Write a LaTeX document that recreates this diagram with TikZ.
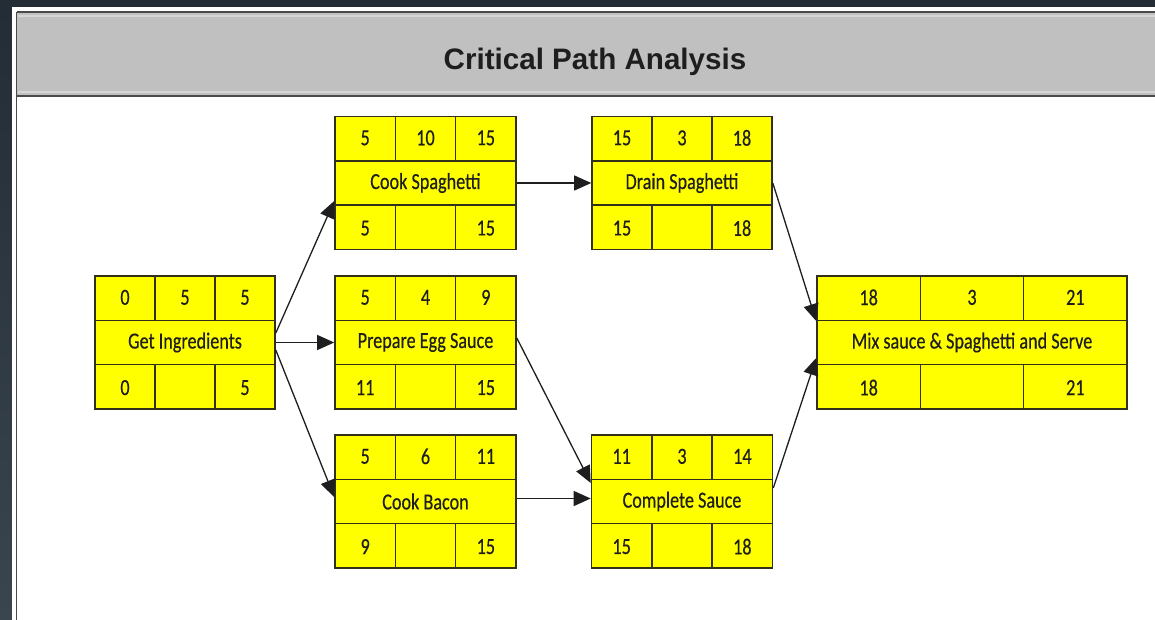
\documentclass[tikz,border=0pt]{standalone}
\usepackage{fontspec}
\usetikzlibrary{arrows.meta}
\newfontfamily\boxfont[FakeStretch=0.79,FakeBold=0.4]{Carlito}
\newfontfamily\headfont{Liberation Sans}
\definecolor{frame}{HTML}{242C36}
\definecolor{frameside}{HTML}{3A4550}
\definecolor{barfill}{HTML}{C0C0C0}
\definecolor{barline}{HTML}{4A4A4A}
\definecolor{barlight}{HTML}{D6D6D6}
\definecolor{taskfill}{HTML}{FFFF00}
\definecolor{taskline}{HTML}{33301A}
\definecolor{ink}{HTML}{1E1E1E}

\tikzset{
  taskbox/.style={draw=taskline, line width=1.6pt, fill=taskfill, minimum height=133pt,
    inner sep=0pt, font=\boxfont\fontsize{23}{25}\selectfont, text=ink},
  grid/.style={draw=taskline, line width=1.6pt},
  cell/.style={inner sep=0pt, font=\boxfont\fontsize{23}{25}\selectfont, text=ink},
  link/.style={draw=ink, line width=1.3pt, -{Triangle[length=17pt,width=15pt]}},
}

% #1 name, #2 centre, #3 width, #4 title, #5 ES, #6 duration, #7 EF, #8 LS, #9 LF
\newcommand\activity[9]{%
  \node[taskbox, minimum width=#3pt] (#1) at #2 {#4};
  \draw[grid] ([yshift=22.17pt]#1.west) -- ([yshift=22.17pt]#1.east)
              ([yshift=-22.17pt]#1.west) -- ([yshift=-22.17pt]#1.east);
  \foreach \s in {-1,1} {
    \draw[grid] ([xshift=\s*#3pt/6]#1.north) -- ([xshift=\s*#3pt/6, yshift=-44.33pt]#1.north);
    \draw[grid] ([xshift=\s*#3pt/6]#1.south) -- ([xshift=\s*#3pt/6, yshift=44.33pt]#1.south);
  }
  \node[cell] (#1-es)  at ([xshift=-#3pt/3, yshift=-22.17pt]#1.north) {#5};
  \node[cell] (#1-dur) at ([yshift=-22.17pt]#1.north) {#6};
  \node[cell] (#1-ef)  at ([xshift=#3pt/3, yshift=-22.17pt]#1.north) {#7};
  \node[cell] (#1-ls)  at ([xshift=-#3pt/3, yshift=22.17pt]#1.south) {#8};
  \node[cell] (#1-lf)  at ([xshift=#3pt/3, yshift=22.17pt]#1.south) {#9};
}

\begin{document}
\begin{tikzpicture}[x=1pt, y=-1pt]
\useasboundingbox (0,0) rectangle (1155,620);

% window frame and panel
\fill[frame] (0,0) rectangle (1155,620);
\shade[top color=frame, bottom color=frameside] (0,7) rectangle (12,620);
\fill[white] (12,7) rectangle (1155,620);
\draw[barline, line width=1.5pt] (16.5,12) -- (16.5,620);

% heading bar
\fill[barfill] (17,12) rectangle (1155,96);
\draw[barlight, line width=1.2pt] (18,16) -- (1155,16) (18,92) -- (1155,92);
\draw[barline, line width=2pt] (16.5,12) -- (1155,12) (16.5,96) -- (1155,96);
\node[font=\headfont\bfseries\fontsize{29.6}{32}\selectfont, text=ink, inner sep=0pt]
  (heading) at (595,62) {Critical Path Analysis};

% activities
\activity{gi}{(185,342.5)}{180}{Get Ingredients}{0}{5}{5}{0}{5}
\activity{cs}{(425.5,183)}{181}{Cook Spaghetti}{5}{10}{15}{5}{15}
\activity{pes}{(425.5,342.5)}{181}{Prepare Egg Sauce}{5}{4}{9}{11}{15}
\activity{cb}{(425.5,501.5)}{181}{Cook Bacon}{5}{6}{11}{9}{15}
\activity{ds}{(682,183)}{180}{Drain Spaghetti}{15}{3}{18}{15}{18}
\activity{csa}{(682,501.5)}{181}{Complete Sauce}{11}{3}{14}{15}{18}
\activity{mix}{(972,342.5)}{310}{Mix sauce \& Spaghetti and Serve}{18}{3}{21}{18}{21}

% dependencies
\draw[link] ([yshift=9.5pt]gi.east) -- ([yshift=-18pt]cs.west);
\draw[link] (gi.east) -- (pes.west);
\draw[link] ([yshift=-7.5pt]gi.east) -- ([yshift=4.5pt]cb.west);
\draw[link] (cs.east) -- (ds.west);
\draw[link] ([yshift=4.5pt]pes.east) -- ([yshift=18.5pt]csa.west);
\draw[link] ([yshift=3pt]cb.east) -- ([yshift=3pt]csa.west);
\draw[link] (ds.east) -- ([yshift=21.5pt]mix.west);
\draw[link] ([yshift=13.5pt]csa.east) -- ([yshift=-15.5pt]mix.west);
\end{tikzpicture}
\end{document}
